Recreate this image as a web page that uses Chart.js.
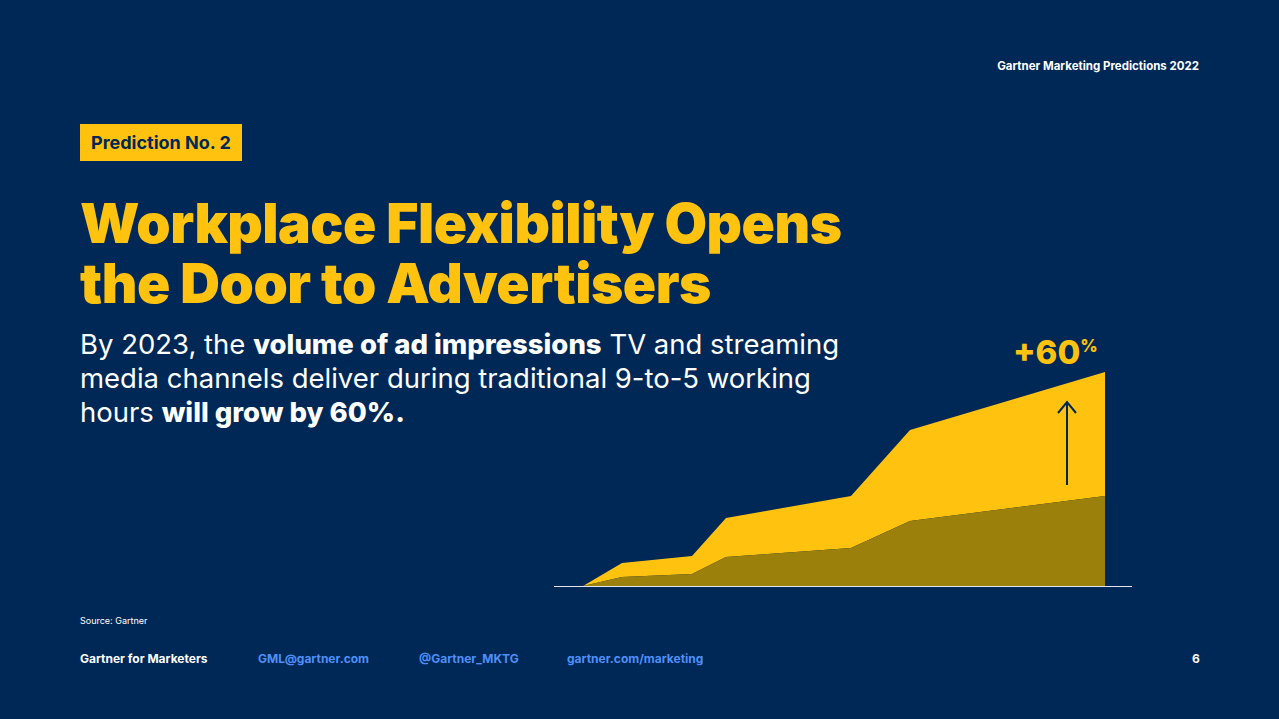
<!DOCTYPE html>
<html>
<head>
<meta charset="utf-8">
<script src="https://cdn.jsdelivr.net/npm/chart.js@4"></script>
<style>
  body { margin: 0; width: 1279px; height: 719px; background: #002856; font-family: Inter, "Open Sans", sans-serif; color: #fff; position: relative; overflow: hidden; }
  .abs { position: absolute; }
  .top { right: 80px; top: 59px; font-size: 11.5px; font-weight: 700; }
  .badge { left: 80px; top: 124px; background: #FFC20E; color: #002856; font-size: 18px; font-weight: 700; padding: 8px 11px; }
  h1 { left: 80px; top: 193px; margin: 0; color: #FFC20E; font-size: 55px; line-height: 60px; font-weight: 900; letter-spacing: -0.5px; }
  .sub { left: 80px; top: 327px; font-size: 27.5px; line-height: 34px; width: 780px; }
  .sub b { font-weight: 800; }
  .pct { left: 1013px; top: 332px; color: #FFC20E; font-size: 33px; font-weight: 800; }
  .pct sup { font-size: 17px; vertical-align: 12px; }
  .src { left: 80px; top: 615px; font-size: 9px; }
  .foot { top: 651px; font-size: 12px; font-weight: 700; }
  .link { color: #4f8ff7; }
  #wrap { left: 554px; top: 330px; width: 577px; height: 256px; }
  .base { left: 554px; top: 586px; width: 578px; height: 1px; background: #dfe6ef; }
</style>
</head>
<body>
<div class="abs top">Gartner Marketing Predictions 2022</div>
<div class="abs badge">Prediction No. 2</div>
<h1 class="abs">Workplace Flexibility Opens<br>the Door to Advertisers</h1>
<div class="abs sub">By 2023, the <b>volume of ad impressions</b> TV and streaming media channels deliver during traditional 9-to-5 working hours <b>will grow by 60%.</b></div>
<div class="abs pct">+60<sup>%</sup></div>
<div class="abs" id="wrap"><canvas id="chart"></canvas></div>
<div class="abs base"></div>
<div class="abs src">Source: Gartner</div>
<div class="abs foot" style="left:80px">Gartner for Marketers</div>
<div class="abs foot link" style="left:258px">GML@gartner.com</div>
<div class="abs foot link" style="left:419px">@Gartner_MKTG</div>
<div class="abs foot link" style="left:567px">gartner.com/marketing</div>
<div class="abs foot" style="left:1192px">6</div>
<script>
const periods = [29, 68, 138, 172, 297, 356, 551];
const withFlex = [0, 23, 30, 68, 90, 156, 214];
const baseline = [0, 9, 12, 29, 38, 65, 90];
const arrowAt = 513;
const arrowFrom = 101;
const arrowTo = 184;

function toPoints(ys) {
  return periods.map((x, i) => ({ x, y: ys[i] }));
}

const arrowPlugin = {
  id: "arrow",
  afterDatasetsDraw(chart) {
    const { ctx, scales } = chart;
    const x = scales.x.getPixelForValue(arrowAt);
    const y1 = scales.y.getPixelForValue(arrowFrom);
    const y2 = scales.y.getPixelForValue(arrowTo);
    ctx.save();
    ctx.strokeStyle = "#002856";
    ctx.lineWidth = 2;
    ctx.beginPath();
    ctx.moveTo(x, y1);
    ctx.lineTo(x, y2);
    ctx.moveTo(x - 9, y2 + 11);
    ctx.lineTo(x, y2);
    ctx.lineTo(x + 9, y2 + 11);
    ctx.stroke();
    ctx.restore();
  },
};

new Chart(document.getElementById("chart"), {
  type: "line",
  data: {
    datasets: [
      { data: toPoints(baseline), fill: "origin", backgroundColor: "#9B800B", borderWidth: 0, pointRadius: 0, tension: 0 },
      { data: toPoints(withFlex), fill: "-1", backgroundColor: "#FFC20E", borderWidth: 0, pointRadius: 0, tension: 0 },
    ],
  },
  options: {
    responsive: true,
    maintainAspectRatio: false,
    animation: false,
    layout: { padding: 0 },
    plugins: { legend: { display: false }, tooltip: { enabled: false } },
    scales: {
      x: { type: "linear", min: 0, max: 577, display: false },
      y: { min: 0, max: 256, display: false },
    },
  },
  plugins: [arrowPlugin],
});
</script>
</body>
</html>
